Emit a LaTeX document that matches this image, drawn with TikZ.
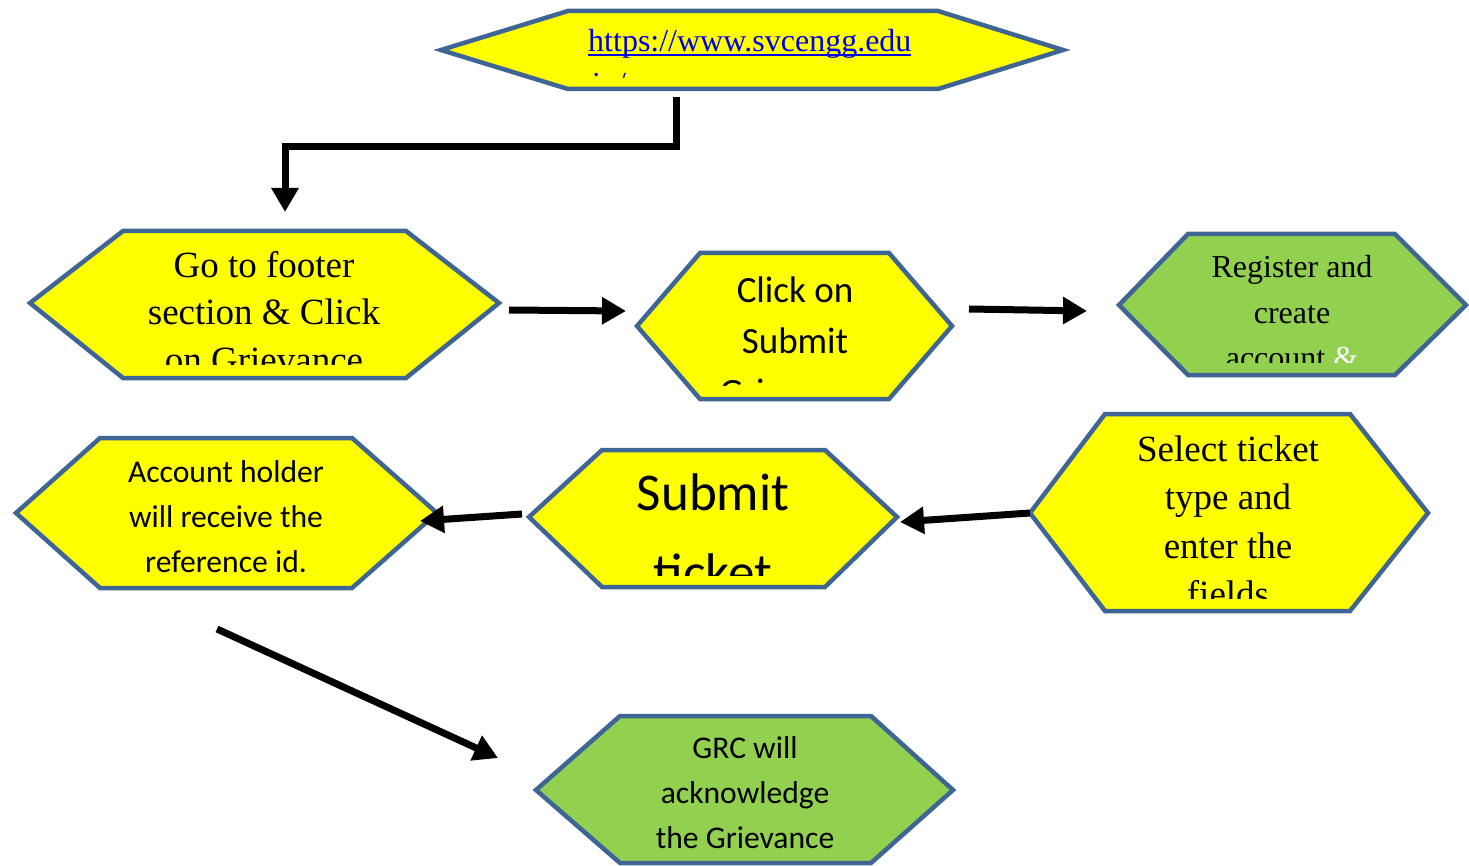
\documentclass[tikz,border=0pt]{standalone}
\usepackage{fontspec}
\setmainfont{Liberation Serif}
\newfontfamily\calib{Carlito}
\usetikzlibrary{arrows.meta}
\definecolor{hexborder}{RGB}{63,101,148}
\definecolor{hexyellow}{RGB}{255,255,0}
\definecolor{hexgreen}{RGB}{146,208,80}
\definecolor{urlblue}{RGB}{0,0,235}
\newcommand\myuline[1]{\setbox0\hbox{#1}\rlap{\rule[-4pt]{\wd0}{1.6pt}}\box0}
\begin{document}
\begin{tikzpicture}[x=1pt,y=-1pt,
  hex/.style={draw=hexborder,line width=4.5pt,line join=miter},
  yhex/.style={hex,fill=hexyellow},
  ghex/.style={hex,fill=hexgreen},
  lbl/.style={anchor=base,align=center,inner sep=0pt},
  flow/.style={line width=7pt,line join=miter,-{Triangle[length=24pt,width=26pt]}},
]
\useasboundingbox (0,0) rectangle (1469,866);

% hexagons
\draw[yhex] (441,50) -- (568,11) -- (938,11) -- (1063,50) -- (938,89) -- (568,89) -- cycle;
\draw[yhex] (30,303) -- (123,231) -- (406,231) -- (499,303) -- (406,378) -- (123,378) -- cycle;
\draw[yhex] (637,326) -- (700,253) -- (889,253) -- (952,326) -- (889,399) -- (700,399) -- cycle;
\draw[ghex] (1119,305) -- (1188,234) -- (1395,234) -- (1466,305) -- (1395,375) -- (1188,375) -- cycle;
\draw[yhex] (16,513) -- (100,438) -- (352,438) -- (437,513) -- (352,588) -- (100,588) -- cycle;
\draw[yhex] (529,517) -- (602,450) -- (825,450) -- (897,517) -- (825,587) -- (602,587) -- cycle;
\draw[yhex] (1030,513) -- (1105,414) -- (1350,414) -- (1428,513) -- (1350,611) -- (1105,611) -- cycle;
\draw[ghex] (536,790) -- (620,716) -- (871,716) -- (953,790) -- (871,863) -- (620,863) -- cycle;

% texts (anchor = baseline of the last line)
\begin{scope}
  \clip (450,13) rectangle (1060,78);
  \node[inner sep=0pt,anchor=base west,align=left,text=urlblue,
        font=\fontsize{32}{43}\selectfont] (url) at (588,95)
        {\myuline{https://www.svcengg.edu}\\\hspace*{4pt}in/};
\end{scope}
\begin{scope}
  \clip (30,233) rectangle (499,364);
  \node[lbl,font=\fontsize{37}{48}\selectfont] (go) at (264,373)
        {Go to footer\\section \& Click\\on Grievance};
\end{scope}
\begin{scope}
  \clip (637,255) rectangle (952,385);
  \node[lbl,font=\calib\fontsize{37}{51}\selectfont] (click) at (795,404)
        {Click on\\Submit\\Grievance};
\end{scope}
\begin{scope}
  \clip (1119,236) rectangle (1466,362);
  \node[lbl,font=\fontsize{32}{45}\selectfont] (reg) at (1292,368)
        {Register and\\create\\account \textcolor{white}{\&}};
\end{scope}
\node[lbl,font=\calib\fontsize{31.6}{45}\selectfont] (acct) at (226,572)
      {Account holder\\will receive the\\reference id.};
\begin{scope}
  \clip (529,452) rectangle (897,575);
  \node[lbl,font=\calib\fontsize{53}{80}\selectfont] (submit) at (713,590)
        {Submit\\ticket};
\end{scope}
\begin{scope}
  \clip (1030,416) rectangle (1428,598);
  \node[lbl,font=\fontsize{37}{48.5}\selectfont] (select) at (1228,606.5)
        {Select ticket\\type and\\enter the\\fields};
\end{scope}
\node[lbl,font=\calib\fontsize{31.6}{45}\selectfont] (grc) at (745,848)
      {GRC will\\acknowledge\\the Grievance};

% connectors
\coordinate (a1s) at (676,97);
\coordinate (a1m) at (676,147);
\coordinate (a1e) at (285,212);
\draw[flow] (a1s) -- (a1m) -| (a1e);
\coordinate (a2s) at (509,310);
\coordinate (a2e) at (626,311);
\draw[flow] (a2s) -- (a2e);
\coordinate (a3s) at (969,309);
\coordinate (a3e) at (1087,311);
\draw[flow] (a3s) -- (a3e);
\coordinate (a4s) at (1030,513);
\coordinate (a4e) at (900,522);
\draw[flow] (a4s) -- (a4e);
\coordinate (a5s) at (522,514);
\coordinate (a5e) at (420,521);
\draw[flow] (a5s) -- (a5e);
\coordinate (a6s) at (217,629);
\coordinate (a6e) at (498,758);
\draw[flow] (a6s) -- (a6e);
\end{tikzpicture}
\end{document}
